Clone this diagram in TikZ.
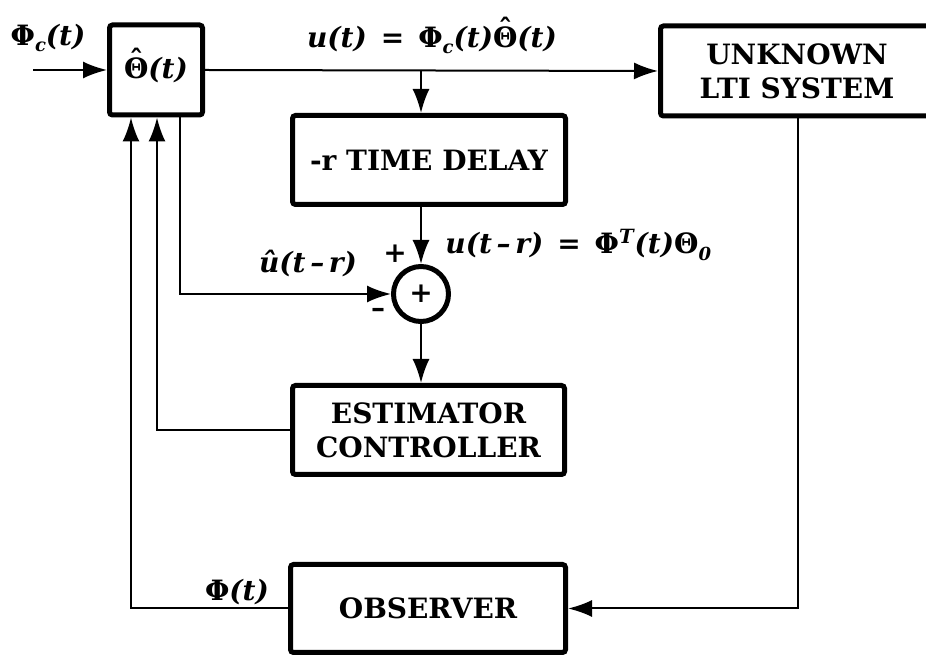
\documentclass[tikz,border=0pt]{standalone}
\usepackage{fontspec}
\setmainfont{DejaVu Serif}
\usetikzlibrary{arrows.meta,calc}
\newcommand\bi[1]{{\bfseries\itshape #1}}
\newcommand\gr[1]{{\bfseries\upshape #1}}
\newcommand\thhat{{\bfseries\upshape\ooalign{Θ\cr\hidewidth\raisebox{0.28em}{ˆ}\hidewidth\cr}}}
\newcommand\lowsub[1]{\raisebox{-0.45ex}{\fontsize{9}{10}\selectfont\bfseries\itshape #1}}
\tikzset{
 blk/.style={draw, line width=2.5pt, rounded corners=1.5pt, font=\bfseries\fontsize{14}{17}\selectfont, align=center, inner sep=0pt},
 con/.style={line width=1pt},
 arr/.style={con, -{Latex[length=12pt,width=8.5pt]}},
 lab/.style={font=\bfseries\itshape\fontsize{14}{16}\selectfont, inner sep=0pt},
 sgn/.style={font=\bfseries\fontsize{14}{16}\selectfont, inner sep=0pt},
}
\begin{document}
\begin{tikzpicture}[x=0.5pt,y=-0.5pt]
\useasboundingbox (0,0) rectangle (926,656);
% blocks
\node[blk, minimum width=46.5pt, minimum height=45pt] (theta) at (156,70) {\thhat\bi{(t)}};
\node[blk, minimum width=136.5pt, minimum height=45pt] (unk) at (797,71) {UNKNOWN\\LTI SYSTEM};
\node[blk, minimum width=136.5pt, minimum height=44.5pt] (delay) at (429,160) {-r TIME DELAY};
\node[blk, circle, minimum size=27.5pt] (sum) at (421,294) {+};
\node[blk, minimum width=136pt, minimum height=44.5pt] (est) at (428.5,430) {ESTIMATOR\\CONTROLLER};
\node[blk, minimum width=137.5pt, minimum height=44pt] (obs) at (428,608.5) {OBSERVER};
% coordinates
\coordinate (in) at (33,70);
\coordinate (br) at (421,70);
\coordinate (fb1) at (131,0);
\coordinate (fb2) at (157,0);
\coordinate (fb3) at (180,0);
\coordinate (rx) at (798,0);
% connectors
\draw[arr] (in) -- (theta.west);
\draw[arr] (theta.east) -- (unk.west);
\draw[arr] (br) -- (delay.north -| br);
\draw[arr] (delay.south -| sum) -- (sum.north);
\draw[arr] (sum.south) -- (est.north -| sum);
\draw[arr] (theta.south -| fb3) |- (sum.west);
\draw[arr] (est.west) -| (theta.south -| fb2);
\draw[arr] (obs.west) -| (theta.south -| fb1);
\draw[arr] (unk.south -| rx) |- (obs.east);
% labels
\node[lab] (lphic) at (48,38) {\gr{Φ}\lowsub{c}(t)};
\node[lab] (lu) at (432,40) {u(t)\enspace=\enspace\gr{Φ}\lowsub{c}(t)\thhat(t)};
\node[lab] (luhat) at (308,263) {\^{u}(t\,–\,r)};
\node[sgn] (lplus) at (395,254) {+};
\node[sgn] (lminus) at (378,313) {–};
\node[lab, anchor=west] (lur) at (445,245) {u(t\,–\,r)\enspace=\enspace\gr{Φ}\textsuperscript{T}(t)\gr{Θ}\lowsub{0}};
\node[lab] (lphi) at (237,592) {\gr{Φ}(t)};
\end{tikzpicture}
\end{document}
